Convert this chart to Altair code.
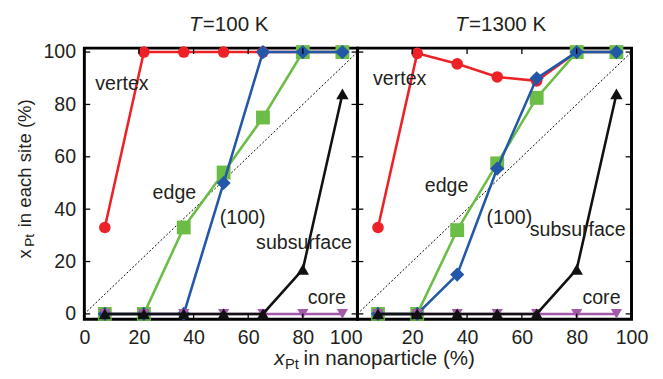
import altair as alt
import pandas as pd

# ---------------- data ----------------
x_pt = [7.5, 21.8, 36.4, 51.0, 65.4, 80.0, 94.5]
sites = ["vertex", "edge", "(100)", "subsurface", "core"]

vertex_100 = [33, 100, 100, 100, 100, 100, 100]
edge_100 = [0, 0, 33, 54, 75, 100, 100]
f100_100 = [0, 0, 0, 50, 100, 100, 100]
subsurface_100 = [0, 0, 0, 0, 0, 17, 84]
core_100 = [0, 0, 0, 0, 0, 0, 0]

vertex_1300 = [33, 99.5, 95.5, 90.5, 89, 100, 100]
edge_1300 = [0, 0, 32, 57.5, 82.5, 100, 100]
f100_1300 = [0, 0, 15, 55.5, 90, 100, 100]
subsurface_1300 = [0, 0, 0, 0, 0, 17, 84]
core_1300 = [0, 0, 0, 0, 0, 0, 0]

tick_values = [0, 20, 40, 60, 80, 100]
right_x_labels = [20, 40, 60, 80, 100]
diag_x = [0, 100]
diag_y = [0, 100]

# annotation positions (data coordinates)
lab_x_100 = [4.0, 25.0, 49.6, 62.9, 81.8]
lab_y_100 = [85.4, 43.9, 34.2, 24.9, 3.6]
lab_x_1300 = [5.7, 24.6, 47.1, 62.9, 82.1]
lab_y_1300 = [87.3, 46.5, 34.2, 29.7, 3.6]

vals_100 = {"vertex": vertex_100, "edge": edge_100, "(100)": f100_100,
            "subsurface": subsurface_100, "core": core_100}
vals_1300 = {"vertex": vertex_1300, "edge": edge_1300, "(100)": f100_1300,
             "subsurface": subsurface_1300, "core": core_1300}

# ---------------- style ----------------
FONT = "Liberation Sans"
TXT = "#231f20"
W_L, W_R, H = 279, 280, 277
XDOM = [0, 100]
YDOM = [-2.05, 101.5]

colors = {"vertex": "#ec2227", "edge": "#6cbd45", "(100)": "#2357a8",
          "subsurface": "#111111", "core": "#a35aab"}
shapes = {"vertex": "circle", "edge": "square", "(100)": "diamond",
          "subsurface": "triangle-up", "core": "triangle-down"}
sizes = {"vertex": 140, "edge": 200, "(100)": 210, "subsurface": 160, "core": 130}
draw_order = ["vertex", "edge", "(100)", "core", "subsurface"]


def panel(vals, lab_x, lab_y, width, xaxis, yaxis, extra):
    xs = alt.X("x:Q", scale=alt.Scale(domain=XDOM, nice=False, zero=False), axis=xaxis)
    ys = alt.Y("y:Q", scale=alt.Scale(domain=YDOM, nice=False, zero=False), axis=yaxis)
    layers = []
    layers.append(
        alt.Chart(pd.DataFrame({"x": diag_x, "y": diag_y}))
        .mark_line(color="black", strokeWidth=1, strokeDash=[2, 2])
        .encode(x=xs, y=ys)
    )
    for s in draw_order:
        base = alt.Chart(pd.DataFrame({"x": x_pt, "y": vals[s]}))
        layers.append(base.mark_line(color=colors[s], strokeWidth=2.6).encode(x=xs, y=ys))
        layers.append(
            base.mark_point(shape=shapes[s], filled=True, size=sizes[s],
                            color=colors[s], opacity=1, strokeWidth=0)
            .encode(x=xs, y=ys)
        )
    layers.append(
        alt.Chart(pd.DataFrame({"x": lab_x, "y": lab_y, "label": sites}))
        .mark_text(align="left", baseline="alphabetic", fontSize=20, font=FONT, color=TXT)
        .encode(x=xs, y=ys, text="label:N")
    )
    tx = pd.DataFrame({"x": tick_values})
    ty = pd.DataFrame({"y": tick_values})
    layers.append(alt.Chart(tx).mark_rule(color="black", strokeWidth=1.3)
                  .encode(x=xs, y=alt.value(H), y2=alt.value(H - 6)))
    layers.append(alt.Chart(tx).mark_rule(color="black", strokeWidth=1.3)
                  .encode(x=xs, y=alt.value(0), y2=alt.value(6)))
    layers.append(alt.Chart(ty).mark_rule(color="black", strokeWidth=1.3)
                  .encode(y=ys, x=alt.value(0), x2=alt.value(6)))
    layers.append(alt.Chart(ty).mark_rule(color="black", strokeWidth=1.3)
                  .encode(y=ys, x=alt.value(width), x2=alt.value(width - 6)))
    layers.extend(extra)
    return alt.layer(*layers).properties(width=width, height=H)


def txt(s, x, y, size=21, style="normal", angle=0):
    kw = dict(align="left", baseline="alphabetic", fontSize=size, font=FONT,
              color=TXT, fontStyle=style)
    if angle:
        kw["angle"] = angle
    return (alt.Chart(pd.DataFrame({"a": [0]}))
            .mark_text(**kw)
            .encode(x=alt.value(x), y=alt.value(y), text=alt.value(s)))


left_extra = [
    txt("T", 107, -17, style="italic"),
    txt("=100 K", 121, -17),
    # y title
    txt("x", -55, 215, size=19, angle=270),
    txt("Pt", -51, 203, size=14, angle=270),
    txt("in each site (%)", -55, 183, size=19, angle=270),
    # x title
    txt("x", 194, 324, style="italic"),
    txt("Pt", 205, 328, size=15),
    txt("in nanoparticle (%)", 224, 324),
]
right_extra = [
    txt("T", 100, -17, style="italic"),
    txt("=1300 K", 114, -17),
]

label_offset_100 = {"condition": {"test": "datum.value == 100", "value": -12}, "value": 0}

left = panel(
    vals_100, lab_x_100, lab_y_100, W_L,
    alt.Axis(values=tick_values, title=None, labelOffset=label_offset_100,
             labelOverlap=False, labelFlush=False),
    alt.Axis(values=tick_values, title=None, labelOverlap=False, labelFlush=False),
    left_extra,
)
right = panel(
    vals_1300, lab_x_1300, lab_y_1300, W_R,
    alt.Axis(values=right_x_labels, title=None, labelOverlap=False, labelFlush=False),
    None,
    right_extra,
)

chart = (
    alt.hconcat(left, right, spacing=0, bounds="flush")
    .properties(padding={"left": 6, "top": 1, "right": 5, "bottom": 0})
    .configure_view(stroke="black", strokeWidth=3)
    .configure_axis(labelFont=FONT, labelFontSize=20, labelColor=TXT, ticks=False,
                    domain=False, grid=False, labelPadding=9)
)

chart.save("out.html", embed_options={"renderer": "svg", "actions": False})
